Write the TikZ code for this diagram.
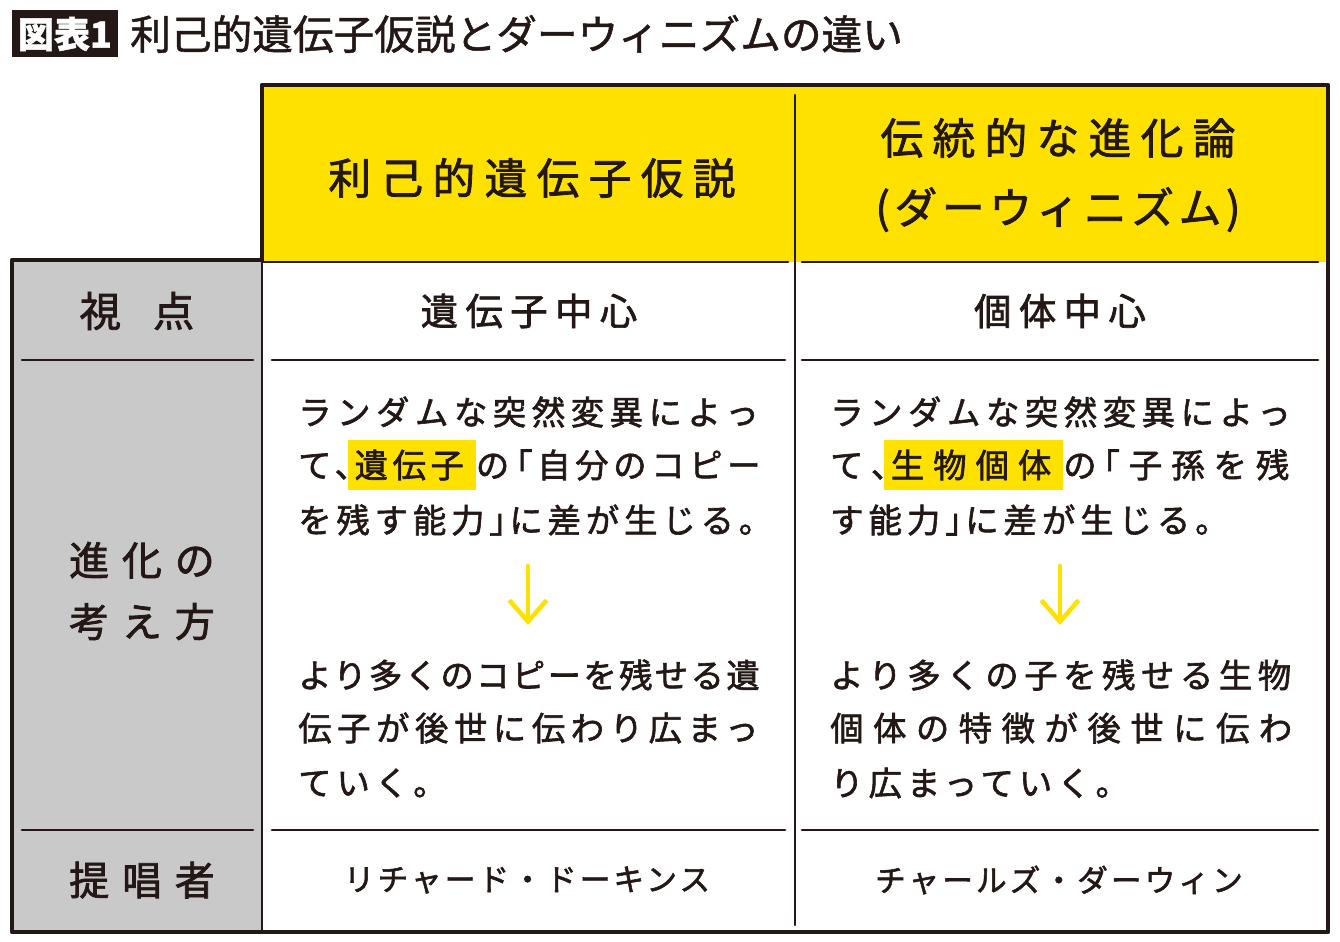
\documentclass[tikz,border=0pt]{standalone}
\usepackage{fontspec}
\usetikzlibrary{arrows.meta}
\setmainfont{Noto Sans CJK JP}
\newfontfamily\jp[FakeBold=1.2]{Noto Sans CJK JP}
\newfontfamily\jpm[FakeBold=1.8]{Noto Sans CJK JP}
\definecolor{kiiro}{HTML}{FFE100}
\definecolor{haiiro}{HTML}{C9C9C9}
\definecolor{sumi}{HTML}{231815}
\setlength{\fboxsep}{5pt}
\newcommand{\hl}[1]{\kern-5pt\colorbox{kiiro}{\rule[-4pt]{0pt}{27pt}#1\kern4pt}}

\tikzset{
	waku/.style={draw=sumi, line width=3.2pt, line join=round},
	kasen/.style={draw=sumi, line width=2.2pt, line cap=round},
	midasi/.style={text=sumi, align=center, font=\jpm\fontsize{32}{52}\selectfont\addfontfeature{LetterSpace=22}},
	koumoku/.style={text=sumi, align=center, font=\jpm\fontsize{30}{46}\selectfont\addfontfeature{LetterSpace=32}},
	naiyou/.style={text=sumi, font=\jpm\fontsize{28}{34}\selectfont\addfontfeature{LetterSpace=20}},
	honbun/.style={anchor=west, inner sep=0pt, text=sumi, font=\jpm\fontsize{25}{30}\selectfont\addfontfeature{LetterSpace=#1}},
	honbun/.default=15,
	hito/.style={text=sumi, font=\jpm\fontsize{23}{28}\selectfont\addfontfeature{LetterSpace=10}},
	yajirusi/.style={-{Straight Barb[length=16pt, width=28pt]}, draw=kiiro, line width=3.4pt, line cap=round},
}

\begin{document}
\begin{tikzpicture}[x=0.75pt, y=-0.75pt]
	\useasboundingbox (0,0) rectangle (1340,942);
	% title
	\fill[sumi] (12,10) rectangle (118,57);
	\node (zu) at (65,34)	[text=white, font=\jp\bfseries\fontsize{27}{30}\selectfont]	{図表1};
	\node (ttl) at (130,34)	[anchor=west, inner sep=0pt, text=sumi, font=\jp\fontsize{30.5}{34}\selectfont]	{利己的遺伝子仮説とダーウィニズムの違い};
	% fills
	\fill[kiiro] (262,85) rectangle (1328,262);
	\fill[haiiro] (12,260) rectangle (262,932);
	% frame
	\draw[waku] (262,262) -- (262,85) -- (1328,85) -- (1328,932) -- (12,932) -- (12,260) -- (262,260);
	\draw[kasen, line width=1.6pt] (262,260) -- (262,932);
	\draw[kasen, line width=1.6pt] (795,95) -- (795,925);
	\draw[kasen] (262,262) -- (788,262);
	\draw[kasen] (802,262) -- (1318,262);
	\foreach \y in {360, 830} {
		\draw[kasen] (22,\y) -- (253,\y);
		\draw[kasen] (272,\y) -- (785,\y);
		\draw[kasen] (802,\y) -- (1318,\y);
	}
	% header
	\node (h1) at (532,178)	[midasi]	{利己的遺伝子仮説};
	\node (h2) at (1058,175)	[midasi]	{伝統的な進化論\\{\addfontfeature{LetterSpace=11}(ダーウィニズム)}};
	% row labels
	\node (r1) at (137,311)	[koumoku, font=\jpm\fontsize{31}{46}\selectfont]	{視\hspace{24pt}点};
	\node (r2) at (142,591)	[koumoku]	{進化の\\考え方};
	\node (r3) at (142,880)	[koumoku]	{提唱者};
	% viewpoint
	\node (v1) at (529,311)	[naiyou]	{遺伝子中心};
	\node (v2) at (1060,311)	[naiyou]	{個体中心};
	% left column text
	\node (p1) at (298,412)	[honbun=16.8]	{ランダムな突然変異によっ};
	\node (p2) at (298,465)	[honbun=14]	{て、\kern-.4em\hl{遺伝子}の\kern-.3em「自分のコピー};
	\node (p3) at (298,520)	[honbun=14.7]	{を残す能力」\kern-.4em に差が生じる。};
	\node (p4) at (298,675)	[honbun=7.2]	{より多くのコピーを残せる遺};
	\node (p5) at (298,728)	[honbun=16.8]	{伝子が後世に伝わり広まっ};
	\node (p6) at (298,783)	[honbun]	{ていく。};
	% right column text
	\node (q1) at (830,412)	[honbun=16.8]	{ランダムな突然変異によっ};
	\node (q2) at (830,465)	[honbun=27]	{て、\kern-.4em\hl{生物個体}の\kern-.3em「子孫を残};
	\node (q3) at (830,520)	[honbun]	{す能力」\kern-.4em に差が生じる。};
	\node (q4) at (830,675)	[honbun=16.8]	{より多くの子を残せる生物};
	\node (q5) at (830,728)	[honbun=28.6]	{個体の特徴が後世に伝わ};
	\node (q6) at (830,783)	[honbun]	{り広まっていく。};
	% arrows
	\coordinate (a1) at (528,566);
	\coordinate (b1) at (528,625);
	\coordinate (a2) at (1060,566);
	\coordinate (b2) at (1060,625);
	\draw[yajirusi] (a1) -- (b1);
	\draw[yajirusi] (a2) -- (b2);
	% proposers
	\node (s1) at (527,880)	[hito]	{リチャード・ドーキンス};
	\node (s2) at (1059,880)	[hito]	{チャールズ・ダーウィン};
\end{tikzpicture}
\end{document}
